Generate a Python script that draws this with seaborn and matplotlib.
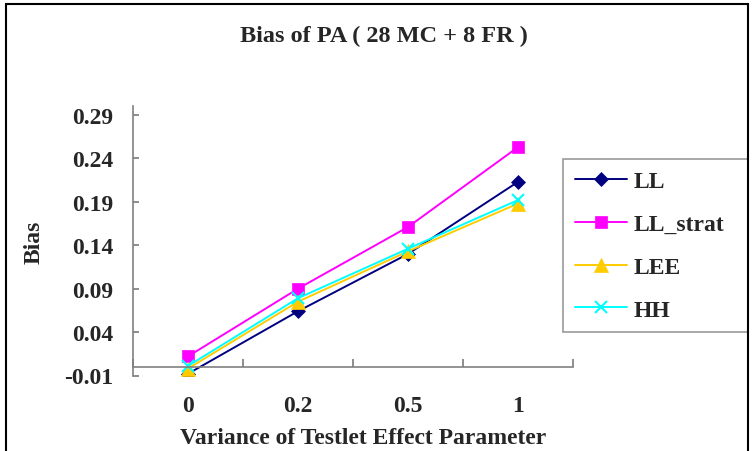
import seaborn as sns
import matplotlib.pyplot as plt
from matplotlib.patches import Rectangle

# Bias of PA for each estimation method across testlet effect variance
variance = ["0", "0.2", "0.5", "1"]
ll = [-0.008, 0.064, 0.130, 0.213]
ll_strat = [0.012, 0.090, 0.161, 0.253]
lee = [-0.002, 0.075, 0.133, 0.188]
hh = [0.001, 0.079, 0.136, 0.192]

sns.set_theme(style="white")
plt.rcParams["font.family"] = ["Liberation Serif", "DejaVu Serif"]
plt.rcParams["font.weight"] = "bold"

fig = plt.figure(figsize=(7.52, 4.52), dpi=100)
ax = fig.add_axes([133 / 752, 1 - 376.5 / 452, 440 / 752, 269.2 / 452])

series = [
    ("LL", ll, "#000080", "D", 7.5),
    ("LL_strat", ll_strat, "#FF00FF", "s", 8.5),
    ("LEE", lee, "#FFCC00", "^", 9.5),
    ("HH", hh, "#00FFFF", "x", 9),
]
for name, vals, col, mk, ms in series:
    sns.lineplot(x=variance, y=vals, ax=ax, color=col, marker=mk, markersize=ms,
                 markeredgecolor=col, markeredgewidth=1.5 if mk == "x" else 0.5,
                 linewidth=1.4, label=name, sort=False)

ax.set_xlim(-0.5, 3.5)
ax.set_ylim(-0.01, 0.30)
ax.set_yticks([-0.01, 0.04, 0.09, 0.14, 0.19, 0.24, 0.29])
ax.set_yticklabels(["-0.01", "0.04", "0.09", "0.14", "0.19", "0.24", "0.29"])
ax.set_xticks([-0.5, 0.5, 1.5, 2.5, 3.5], minor=False)
ax.set_xticklabels([])
ax.set_xticks([0, 1, 2, 3], minor=True)
ax.set_xticklabels(variance, minor=True)

for s in ["top", "right"]:
    ax.spines[s].set_visible(False)
for s in ["left", "bottom"]:
    ax.spines[s].set_color("#808080")
    ax.spines[s].set_linewidth(1.2)
ax.spines["bottom"].set_position(("data", 0))

fs = 17
ax.tick_params(axis="y", which="major", direction="in", length=4, color="#808080",
               pad=14, labelsize=fs, left=True)
ax.tick_params(axis="x", which="major", direction="in", length=6, color="#808080",
               bottom=True)
ax.tick_params(axis="x", which="minor", length=0, pad=20, labelsize=fs, bottom=True)
for lab in ax.get_xticklabels(minor=True) + ax.get_yticklabels():
    lab.set_fontweight("bold")

ax.set_xlabel("Variance of Testlet Effect Parameter", fontsize=fs, fontweight="bold")
ax.xaxis.set_label_coords(0.523, -0.19)
ax.set_ylabel("Bias", fontsize=fs, fontweight="bold")
ax.yaxis.set_label_coords(-0.2, 0.5)

fig.suptitle("Bias of PA ( 28 MC + 8 FR )", x=384 / 752, y=1 - 26 / 452,
             va="top", fontsize=17.5, fontweight="bold")

leg = ax.legend(loc="upper left",
                bbox_to_anchor=(563 / 752, 1 - 335 / 452, 185 / 752, 175 / 452),
                bbox_transform=fig.transFigure, mode="expand", frameon=True,
                fancybox=False, shadow=False, borderaxespad=0, borderpad=0.5,
                labelspacing=0.9, handlelength=2.2, handletextpad=0.3,
                prop={"size": fs, "weight": "bold"})
leg.get_frame().set_edgecolor("#808080")
leg.get_frame().set_linewidth(1.2)

fig.patches.append(Rectangle((6 / 752, -0.05), 742 / 752, 1.05 - 5 / 452,
                             transform=fig.transFigure, fill=False,
                             edgecolor="black", linewidth=1.5))

fig.savefig("out.png", dpi=100)
